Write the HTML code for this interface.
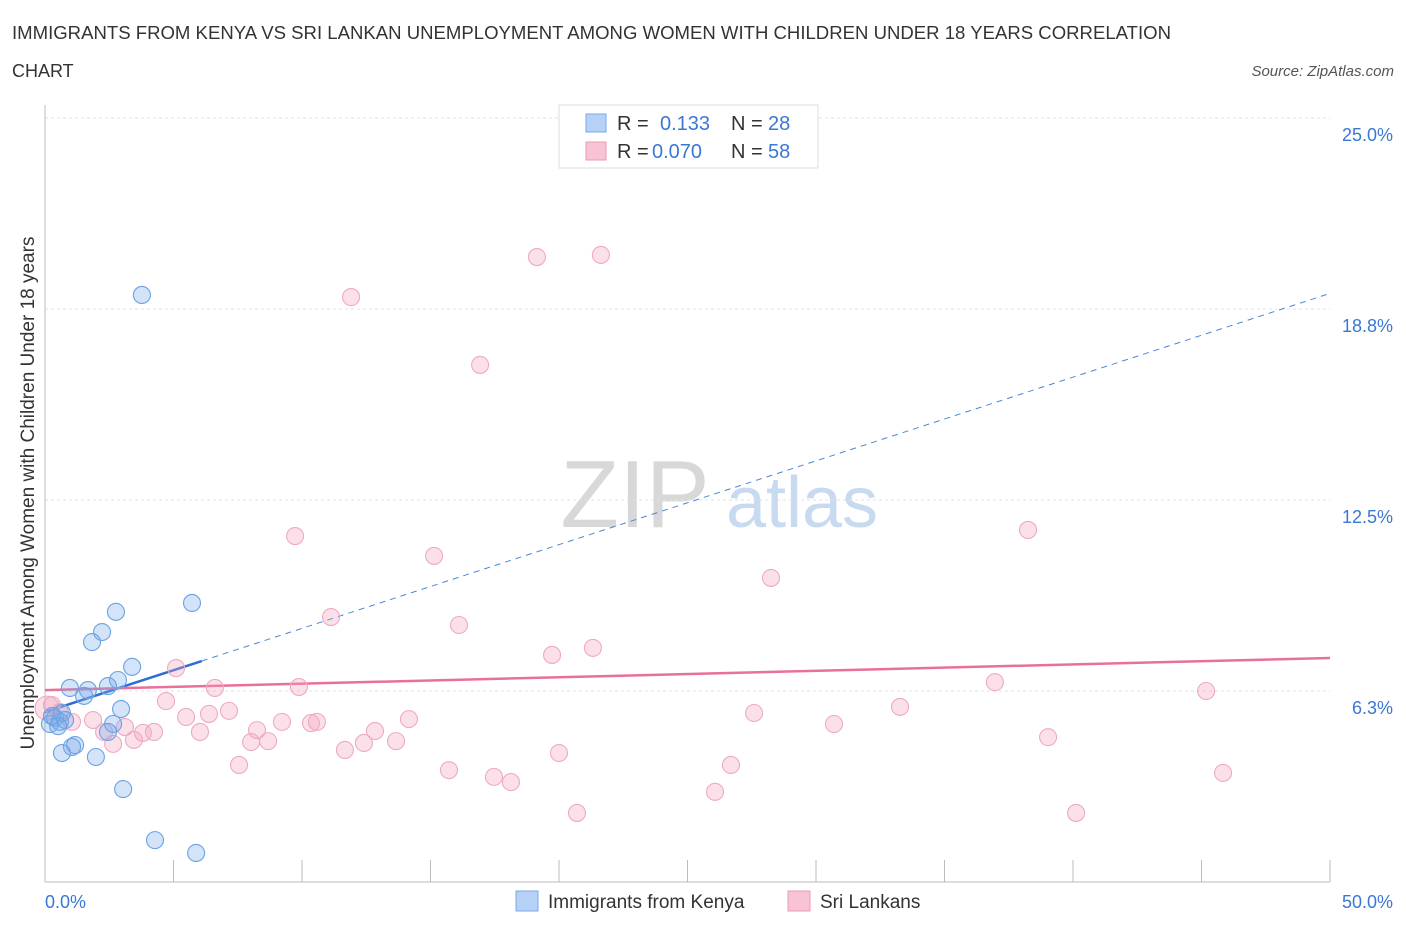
<!DOCTYPE html>
<html><head><meta charset="utf-8"><style>
body{margin:0;background:#fff;font-family:"Liberation Sans",sans-serif;}
svg text{font-family:"Liberation Sans",sans-serif;}
</style></head><body>
<svg id="chart" width="1406" height="930" xmlns="http://www.w3.org/2000/svg">
<text x="12" y="39" font-size="18" fill="#333" textLength="1159" lengthAdjust="spacingAndGlyphs">IMMIGRANTS FROM KENYA VS SRI LANKAN UNEMPLOYMENT AMONG WOMEN WITH CHILDREN UNDER 18 YEARS CORRELATION</text>
<text x="12" y="77" font-size="18" fill="#333">CHART</text>
<text x="1394" y="76" font-size="15" fill="#555" text-anchor="end" font-style="italic">Source: ZipAtlas.com</text>
<g>
<text x="635" y="527" font-size="96" fill="#d8d8d8" font-family="Liberation Serif, serif" text-anchor="middle">ZIP</text>
<text x="802" y="527" font-size="72" fill="#c8daf0" text-anchor="middle">atlas</text>
</g>
<g id="grid"></g><g id="axes"></g><g id="trend"></g><g id="points"></g>
<text transform="translate(34,493) rotate(-90)" font-size="19" fill="#333" text-anchor="middle">Unemployment Among Women with Children Under 18 years</text>
<g>
<rect x="559" y="105" width="259" height="63" fill="#fff" stroke="#ddd"/>
<rect x="586" y="114" width="20" height="18" fill="#b6d1f5" stroke="#7aa8e8"/>
<rect x="586" y="142" width="20" height="18" fill="#f8c3d4" stroke="#ec9ab6"/>
<text x="617" y="130" font-size="20" fill="#333">R = </text><text x="660" y="130" font-size="20" fill="#3a78d4">0.133</text>
<text x="731" y="130" font-size="20" fill="#333">N = </text><text x="768" y="130" font-size="20" fill="#3a78d4">28</text>
<text x="617" y="158" font-size="20" fill="#333">R = </text><text x="652" y="158" font-size="20" fill="#3a78d4">0.070</text>
<text x="731" y="158" font-size="20" fill="#333">N = </text><text x="768" y="158" font-size="20" fill="#3a78d4">58</text>
</g>
<g>
<rect x="516" y="891" width="22" height="20" fill="#b6d1f5" stroke="#7aa8e8"/>
<text x="548" y="908" font-size="19" fill="#333">Immigrants from Kenya</text>
<rect x="788" y="891" width="22" height="20" fill="#f8c3d4" stroke="#ec9ab6"/>
<text x="820" y="908" font-size="19" fill="#333">Sri Lankans</text>
</g>
</svg>
<script>
const yTicks=[6.3,12.5,18.8,25.0];
const yTickVals=[6.25,12.5,18.75,25];
const xTickLabels=["0.0%","50.0%"];
const kenyaX=[3.77,5.72,2.76,2.22,1.83,3.39,2.84,2.45,1.67,0.97,1.52,2.96,2.65,0.39,0.19,0.58,0.66,0.78,2.45,1.17,1.05,0.66,1.98,3.04,4.28,5.88,0.27,0.51];
const kenyaY=[19.21,9.13,8.84,8.18,7.85,7.04,6.61,6.41,6.28,6.35,6.09,5.66,5.17,5.37,5.17,5.24,5.53,5.30,4.91,4.48,4.42,4.22,4.09,3.04,1.37,0.95,5.43,5.10];
const lankaX=[19.14,21.63,11.91,16.93,9.73,15.14,38.25,28.25,11.13,16.11,21.32,19.73,5.10,6.61,9.88,36.96,45.18,4.71,33.27,27.59,7.16,6.38,5.49,14.16,10.58,10.35,9.22,30.70,1.87,1.05,3.11,2.30,4.24,6.03,8.25,12.84,3.81,2.65,3.46,8.02,8.68,13.66,12.41,11.67,39.03,20.00,7.55,26.69,15.72,17.47,18.13,45.84,26.07,20.70,40.12,0.27,0.58,0.08];
const lankaY=[20.45,20.52,19.14,16.92,11.32,10.67,11.52,9.95,8.67,8.41,7.66,7.43,7.00,6.35,6.38,6.54,6.25,5.92,5.73,5.53,5.60,5.50,5.40,5.33,5.24,5.20,5.24,5.17,5.30,5.24,5.07,4.91,4.91,4.91,4.97,4.94,4.88,4.52,4.65,4.58,4.61,4.61,4.55,4.32,4.74,4.22,3.83,3.83,3.66,3.44,3.27,3.57,2.95,2.26,2.26,5.79,5.56,5.69];
const kenyaTrend=[5.56,0.274];
const lankaTrend=[6.28,0.021];
const NS="http://www.w3.org/2000/svg";
const X=v=>45+v*25.7, Y=v=>882-v*30.56;
function mk(p,t,a){const e=document.createElementNS(NS,t);for(const k in a)e.setAttribute(k,a[k]);document.getElementById(p).appendChild(e);return e;}
yTickVals.forEach((v,i)=>{
 const l=mk('grid','line',{x1:45,x2:1330,y1:Y(v),y2:Y(v),stroke:'#e2e2e2','stroke-dasharray':'3,3'});
 
 
 const t=mk('grid','text',{x:1393,y:Y(v)+23,'font-size':18,fill:'#3a78d4','text-anchor':'end'});
 t.textContent=yTicks[i].toFixed(1)+'%';
 
 
});
const ax=mk('axes','line',{x1:45,x2:1330,y1:882,y2:882,stroke:'#bbb'});


const ay=mk('axes','line',{x1:45,x2:45,y1:105,y2:882,stroke:'#bbb'});


for(let i=0;i<=10;i++){const tk=mk('axes','line',{x1:X(i*5),x2:X(i*5),y1:882,y2:i==0?882:860,stroke:'#bbb'});
 
 }
[[0,'start',45],[50,'end',1393]].forEach((d,i)=>{const t=mk('axes','text',{x:d[2],y:908,'font-size':18,fill:'#3a78d4','text-anchor':d[1]});t.textContent=xTickLabels[i];
 
 });
function pts(xs,ys,fill,stroke,name){xs.forEach((x,i)=>{const c=mk('points','circle',{cx:X(x),cy:Y(ys[i]),r:(x<0.1?12:8.5),fill:fill,stroke:stroke,'stroke-width':1.1});
 
 });}
pts(lankaX,lankaY,'rgba(244,160,190,0.33)','#eeaac2','srilankan-point');
pts(kenyaX,kenyaY,'rgba(120,170,235,0.33)','#6aa2e2','kenya-point');
const td=mk('trend','line',{x1:X(6.1),y1:Y(kenyaTrend[0]+kenyaTrend[1]*6.1),x2:X(50),y2:Y(kenyaTrend[0]+kenyaTrend[1]*50),stroke:'#4a86d8','stroke-width':1,'stroke-dasharray':'6,5'});


const ts=mk('trend','line',{x1:X(0),y1:Y(kenyaTrend[0]),x2:X(6.1),y2:Y(kenyaTrend[0]+kenyaTrend[1]*6.1),stroke:'#2a6fd4','stroke-width':2.5});


const tp=mk('trend','line',{x1:X(0),y1:Y(lankaTrend[0]),x2:X(50),y2:Y(lankaTrend[0]+lankaTrend[1]*50),stroke:'#e8709a','stroke-width':2.5});


</script>
</body></html>
